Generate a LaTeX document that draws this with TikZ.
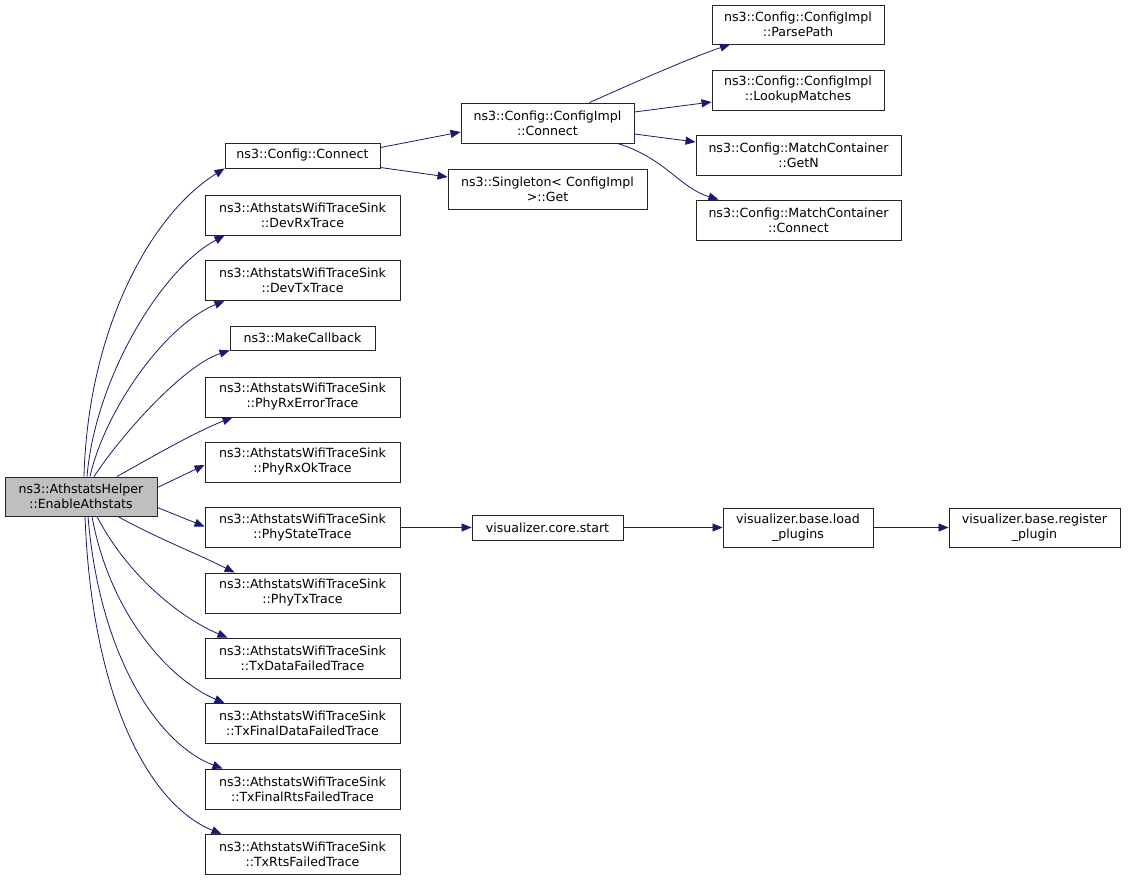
\documentclass[tikz,border=0pt]{standalone}
\usepackage{fontspec}
\setmainfont{DejaVu Sans}
\usetikzlibrary{arrows.meta,calc}
\definecolor{edgec}{HTML}{191970}
\definecolor{rootfill}{HTML}{BFBFBF}
\begin{document}
\begin{tikzpicture}[x=1pt,y=-1pt,
  fn/.style={draw=black!85, line width=0.9pt, fill=white, align=center, inner sep=0pt,
    font=\fontsize{12.6}{15}\selectfont},
  e/.style={draw=edgec, line width=0.8pt, -{Triangle[length=10pt,width=8pt]}}]
\fill[white] (0,0) rectangle (1128,880);
\useasboundingbox (0,0) rectangle (1128,880);
% nodes
\node[fn, fill=rootfill, minimum width=152, minimum height=39] (root) at (81,496.5) {ns3::AthstatsHelper\\::EnableAthstats};
\node[fn, minimum width=155, minimum height=25] (cc) at (302.5,155.5) {ns3::Config::Connect};
\node[fn, minimum width=195, minimum height=40] (devrx) at (302.5,215) {ns3::AthstatsWifiTraceSink\\::DevRxTrace};
\node[fn, minimum width=195, minimum height=40] (devtx) at (302.5,280.5) {ns3::AthstatsWifiTraceSink\\::DevTxTrace};
\node[fn, minimum width=145, minimum height=24] (makecb) at (302.5,338) {ns3::MakeCallback};
\node[fn, minimum width=195, minimum height=40] (phyrxerr) at (302.5,397) {ns3::AthstatsWifiTraceSink\\::PhyRxErrorTrace};
\node[fn, minimum width=195, minimum height=40] (phyrxok) at (302.5,462) {ns3::AthstatsWifiTraceSink\\::PhyRxOkTrace};
\node[fn, minimum width=195, minimum height=40] (phystate) at (302.5,527.5) {ns3::AthstatsWifiTraceSink\\::PhyStateTrace};
\node[fn, minimum width=195, minimum height=40] (phytx) at (302.5,593) {ns3::AthstatsWifiTraceSink\\::PhyTxTrace};
\node[fn, minimum width=195, minimum height=40] (txdata) at (302.5,658) {ns3::AthstatsWifiTraceSink\\::TxDataFailedTrace};
\node[fn, minimum width=195, minimum height=40] (txfdata) at (302.5,723.5) {ns3::AthstatsWifiTraceSink\\::TxFinalDataFailedTrace};
\node[fn, minimum width=195, minimum height=40] (txfrts) at (302.5,789) {ns3::AthstatsWifiTraceSink\\::TxFinalRtsFailedTrace};
\node[fn, minimum width=195, minimum height=40] (txrts) at (302.5,854.5) {ns3::AthstatsWifiTraceSink\\::TxRtsFailedTrace};
\node[fn, minimum width=173, minimum height=40] (cimpl) at (547.5,123) {ns3::Config::ConfigImpl\\::Connect};
\node[fn, minimum width=199, minimum height=40] (single) at (547.5,189) {ns3::Singleton< ConfigImpl\\ >::Get};
\node[fn, minimum width=172, minimum height=39] (parse) at (798,24.5) {ns3::Config::ConfigImpl\\::ParsePath};
\node[fn, minimum width=172, minimum height=40] (lookup) at (798,90) {ns3::Config::ConfigImpl\\::LookupMatches};
\node[fn, minimum width=205, minimum height=40] (getn) at (798.5,155) {ns3::Config::MatchContainer\\::GetN};
\node[fn, minimum width=205, minimum height=40] (mcconn) at (798.5,220) {ns3::Config::MatchContainer\\::Connect};
\node[fn, minimum width=151, minimum height=25] (vcore) at (547.5,527.5) {visualizer.core.start};
\node[fn, minimum width=150, minimum height=39] (load) at (798,527.5) {visualizer.base.load\\\_plugins};
\node[fn, minimum width=171, minimum height=39] (reg) at (1034.5,527.5) {visualizer.base.register\\\_plugin};
% edges from root
\draw[e] ([xshift=3pt]root.north) .. controls (88,330) and (150,215) .. (cc.south west);
\draw[e] ([xshift=6pt]root.north) .. controls (95,380) and (160,270) .. ([xshift=20pt]devrx.south west);
\draw[e] ([xshift=9pt]root.north) .. controls (105,410) and (165,325) .. ([xshift=20pt]devtx.south west);
\draw[e] ([xshift=13pt]root.north) .. controls (125,430) and (185,365) .. (makecb.south west);
\draw[e] ([xshift=36pt]root.north) .. controls (150,458) and (195,432) .. ([xshift=28pt]phyrxerr.south west);
\draw[e] ([yshift=9pt]root.east) -- ([yshift=-3pt]phyrxok.west);
\draw[e] ([yshift=-11pt]root.east) -- ([yshift=1pt]phystate.west);
\draw[e] ([xshift=37pt]root.south) .. controls (150,535) and (200,555) .. ([xshift=30pt]phytx.north west);
\draw[e] ([xshift=16pt]root.south) .. controls (130,580) and (185,620) .. ([xshift=23pt]txdata.north west);
\draw[e] ([xshift=11pt]root.south) .. controls (110,615) and (170,680) .. ([xshift=20pt]txfdata.north west);
\draw[e] ([xshift=7pt]root.south) .. controls (100,660) and (160,745) .. ([xshift=18pt]txfrts.north west);
\draw[e] ([xshift=4pt]root.south) .. controls (92,700) and (150,805) .. ([xshift=17pt]txrts.north west);
% other edges
\draw[e] ([yshift=8pt]cc.east) -- ([yshift=-9pt]cimpl.west);
\draw[e] ([yshift=-12pt]cc.east) -- ([yshift=12pt]single.west);
\draw[e] ([xshift=42pt]cimpl.north) .. controls (640,80) and (690,58) .. ([xshift=-68pt]parse.south);
\draw[e] ([yshift=11pt]cimpl.east) -- ([yshift=-12pt]lookup.west);
\draw[e] ([yshift=-11pt]cimpl.east) -- ([yshift=13pt]getn.west);
\draw[e] ([xshift=70pt]cimpl.south) .. controls (665,158) and (680,188) .. ([xshift=-80pt]mcconn.north);
\draw[e] (phystate.east) -- (vcore.west);
\draw[e] (vcore.east) -- (load.west);
\draw[e] (load.east) -- (reg.west);
\end{tikzpicture}
\end{document}
